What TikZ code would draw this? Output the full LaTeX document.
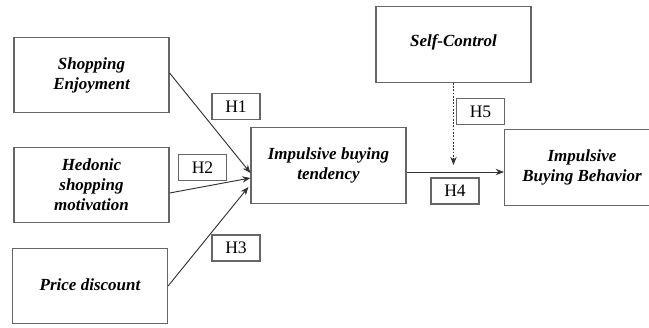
\documentclass[tikz,border=0pt]{standalone}
\usepackage{fontspec}
\setmainfont{Liberation Serif}
\usetikzlibrary{arrows.meta}

\begin{document}
\begin{tikzpicture}[x=0.03cm, y=-0.03cm,
        var/.style={draw=black!60, line width=1pt, minimum width=4.65cm, minimum height=2.26cm, align=center, font=\fontsize{14.5}{17}\selectfont\bfseries\itshape},
        hyp/.style={draw=black!60, line width=1pt, minimum width=1.44cm, minimum height=0.78cm, inner sep=0pt, font=\fontsize{15}{17}\selectfont},
        link/.style={draw=black!80, line width=0.8pt, -{Stealth[length=7pt,width=5.5pt]}}]
            \clip (0,0) rectangle (649,327);

            \node[var] (enjoy) at (91.5,75) {Shopping\\Enjoyment};
            \node[var] (hedonic) at (91.5,185) {Hedonic\\shopping\\motivation};
            \node[var] (price) at (90,286) {\raisebox{3pt}{Price discount}};

            \node[var] (tendency) at (328.5,165.5) {Impulsive buying\\tendency};
            \node[var] (self) at (453.5,44.5) {\raisebox{6pt}{Self-Control}};
            \node[var] (behavior) at (582,167.5) {Impulsive\\Buying Behavior};

            \node[hyp] (h1) at (236,106.5) {H1};
            \node[hyp] (h2) at (202.5,167.5) {H2};
            \node[hyp] (h3) at (236,248) {H3};
            \node[hyp] (h4) at (455,191) {H4};
            \node[hyp] (h5) at (480.5,111.5) {H5};

            \draw[link] ([shift={(0,-2)}]enjoy.east) -- ([shift={(0,7.5)}]tendency.west);
            \draw[link] ([shift={(0,8)}]hedonic.east) -- ([shift={(0,12.5)}]tendency.west);
            \draw[link] (price.east) -- ([shift={(-2,21.5)}]tendency.west);

            \coordinate (out4) at ([shift={(0,6.5)}]tendency.east);
            \draw[link] (out4) -- (out4 -| behavior.west);

            \coordinate (meet) at (self.south |- out4);
            \draw[link, dash pattern=on 1.5pt off 1.3pt] (self.south) -- ([shift={(0,-7)}]meet);

        \end{tikzpicture}
\end{document}
